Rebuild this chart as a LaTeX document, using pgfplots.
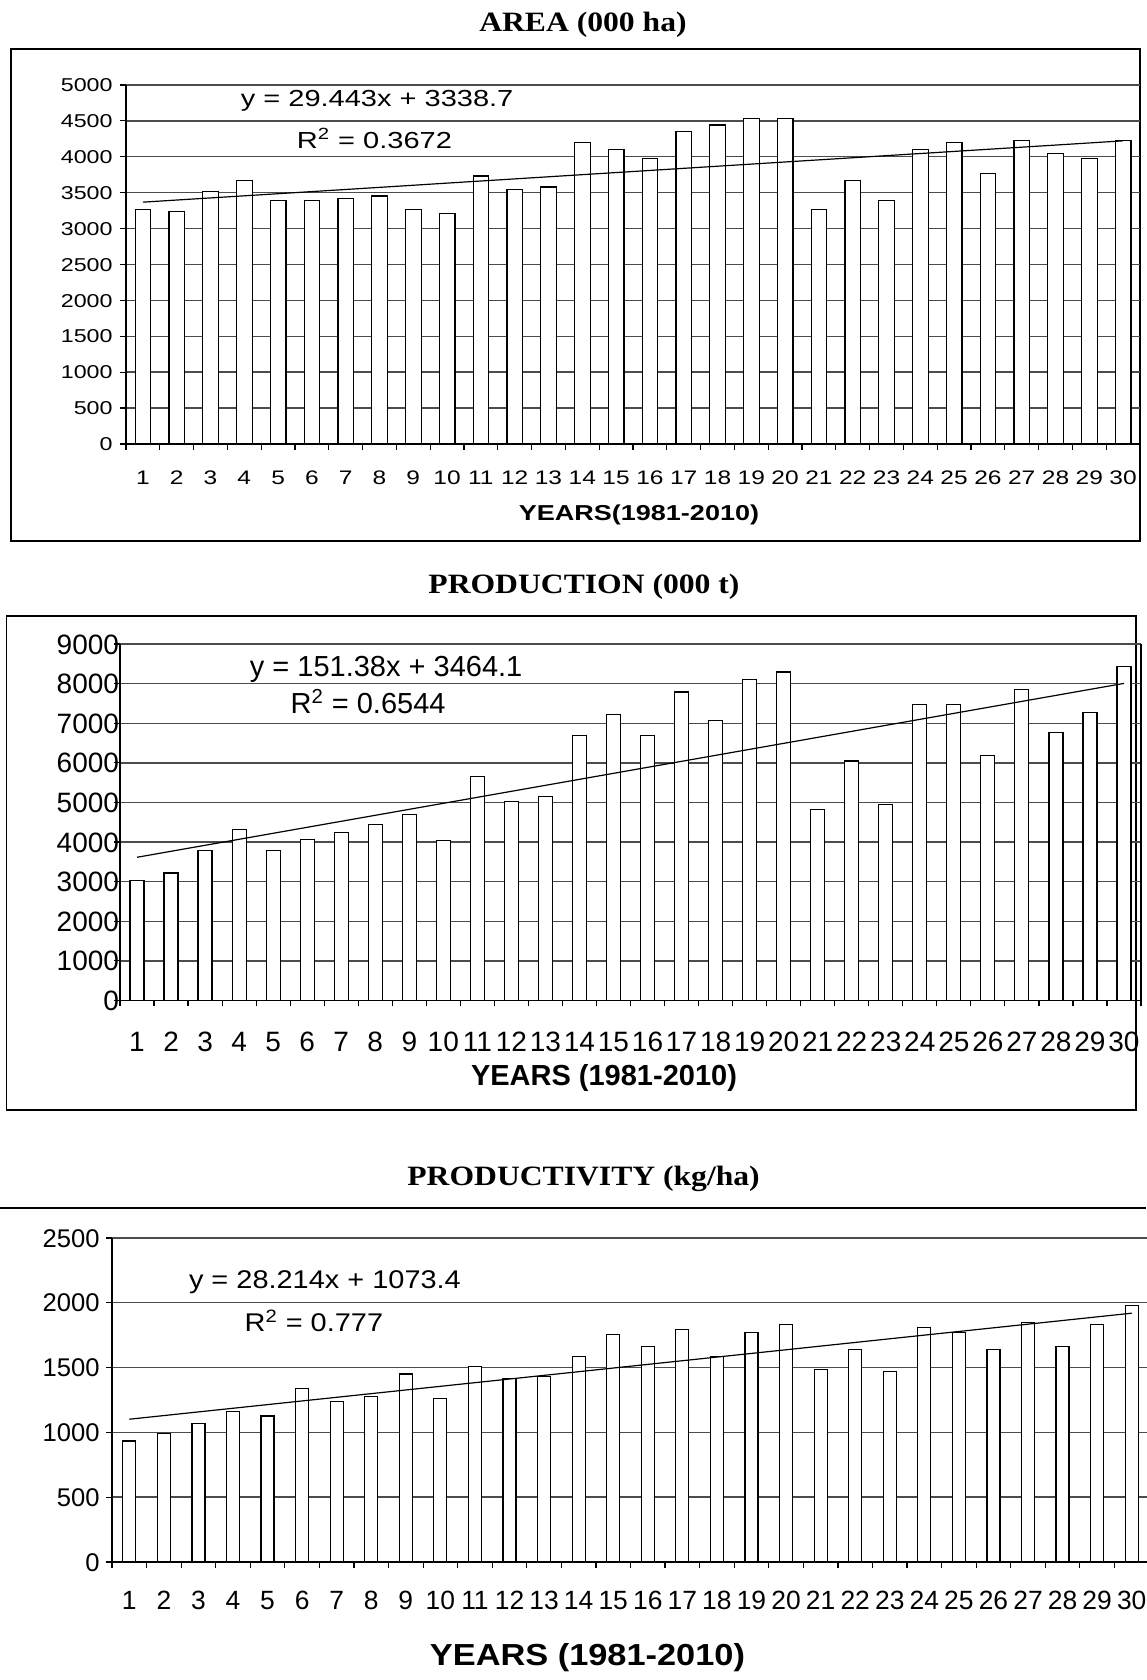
\documentclass[border=0pt]{standalone}
\usepackage{pgfplots}
\pgfplotsset{compat=1.18}
\usepackage{fontspec}
\setmainfont{Liberation Sans}
\newfontfamily\sfA[FakeStretch=1.25]{Liberation Sans}
\newfontfamily\sfB{Liberation Sans}
\newfontfamily\sfC[FakeStretch=1.13]{Liberation Sans}
\newfontfamily\serB[FakeStretch=1.13]{Liberation Serif}

\pgfplotsset{
  excel/.style={
    scale only axis, anchor=south west,
    xmin=0.5, xmax=30.5, ymin=0,
    axis x line*=bottom, axis y line*=left,
    axis line style={black, line width=0.7pt, -},
    xtick={1,...,30},
    minor xtick={0.5,1.5,...,30.5},
    tick align=outside,
    major tick length=0pt, minor tick length=3pt,
    minor tick style={black, line width=0.6pt},
    ymajorgrids, grid style={black!70, line width=0.7pt},
    /pgf/number format/assume math mode=true,
    /pgf/number format/1000 sep={},
    scaled y ticks=false,
    clip=false,
    xticklabel style={anchor=base, inner sep=0pt},
    yticklabel style={anchor=base east, inner sep=0pt},
  },
}

\begin{document}
\begin{tikzpicture}
\useasboundingbox (0pt,0pt) rectangle (573pt,840pt);

% ---------------- AREA ----------------
\node[font=\serB\bfseries\fontsize{14}{16}\selectfont] at (291.5pt,827.5pt) {AREA (000 ha)};
\draw[line width=0.8pt] (5.5pt,569.5pt) rectangle (570pt,815.5pt);
\begin{axis}[excel,
  at={(63pt,618pt)}, width=507pt, height=179.5pt,
  ymax=5000, ytick={0,500,...,5000}, minor ytick={0,500,...,5000},
  xticklabel style={font=\sfA\fontsize{9.8}{12}\selectfont, yshift=-20.5pt},
  yticklabel style={font=\sfA\fontsize{9.3}{11}\selectfont, xshift=-6.5pt, yshift=-3.33pt},
]
\addplot[ybar, bar width=7.8pt, fill=white, draw=black, line width=0.6pt] coordinates {
(1,3270) (2,3236) (3,3514) (4,3668) (5,3390) (6,3390) (7,3424) (8,3454) (9,3270) (10,3211)
(11,3733) (12,3544) (13,3579) (14,4195) (15,4100) (16,3976) (17,4349) (18,4443) (19,4533) (20,4533)
(21,3270) (22,3668) (23,3390) (24,4100) (25,4195) (26,3762) (27,4225) (28,4041) (29,3976) (30,4225)
};
\addplot[black, line width=0.6pt, mark=none] coordinates {(1,3368.1) (30,4222.0)};
\node[anchor=base, font=\sfA\fontsize{11.6}{13}\selectfont] at (axis cs:7.93,4698) {y = 29.443x + 3338.7};
\node[anchor=base, font=\sfA\fontsize{11.6}{13}\selectfont] at (axis cs:7.85,4118) {R\textsuperscript{2} = 0.3672};
\end{axis}
\node[font=\sfA\bfseries\fontsize{10.8}{12}\selectfont] at (319.5pt,582.5pt) {YEARS(1981-2010)};

% ---------------- PRODUCTION ----------------
\node[font=\serB\bfseries\fontsize{14}{16}\selectfont] at (292pt,546.5pt) {PRODUCTION (000 t)};
\draw[line width=0.8pt] (3.2pt,285pt) rectangle (568pt,532pt);
\begin{axis}[excel,
  at={(60pt,339.75pt)}, width=510.5pt, height=178.25pt,
  ymax=9000, ytick={0,1000,...,9000}, minor ytick={0,1000,...,9000},
  xticklabel style={font=\sfB\fontsize{14}{16}\selectfont, yshift=-25.6pt},
  yticklabel style={font=\sfB\fontsize{14}{16}\selectfont, xshift=-0.3pt, yshift=-5pt},
]
\addplot[ybar, bar width=7pt, fill=white, draw=black, line width=0.6pt] coordinates {
(1,3027) (2,3217) (3,3795) (4,4319) (5,3795) (6,4057) (7,4247) (8,4446) (9,4699) (10,4048)
(11,5665) (12,5024) (13,5150) (14,6696) (15,7211) (16,6696) (17,7789) (18,7075) (19,8105) (20,8295)
(21,4825) (22,6045) (23,4952) (24,7464) (25,7464) (26,6181) (27,7852) (28,6759) (29,7274) (30,8430)
};
\addplot[black, line width=0.6pt, mark=none] coordinates {(1,3615.5) (30,8005.5)};
\draw[black, line width=0.7pt] (rel axis cs:1,0) -- (rel axis cs:1,1);
\node[anchor=base, font=\sfB\fontsize{14.5}{16}\selectfont] at (axis cs:8.32,8192) {y = 151.38x + 3464.1};
\node[anchor=base, font=\sfB\fontsize{14.5}{16}\selectfont] at (axis cs:7.79,7238) {R\textsuperscript{2} = 0.6544};
\end{axis}
\node[font=\sfB\bfseries\fontsize{14.5}{16}\selectfont] at (302pt,301pt) {YEARS (1981-2010)};

% ---------------- PRODUCTIVITY ----------------
\node[font=\serB\bfseries\fontsize{14}{16}\selectfont] at (291.8pt,250.5pt) {PRODUCTIVITY (kg/ha)};
\draw[line width=0.8pt] (0pt,236pt) -- (573pt,236pt);
\begin{axis}[excel,
  at={(56pt,59pt)}, width=518.5pt, height=162pt,
  ymax=2500, ytick={0,500,...,2500}, minor ytick={0,500,...,2500},
  xticklabel style={font=\sfB\fontsize{13.2}{15}\selectfont, yshift=-23.7pt},
  yticklabel style={font=\sfB\fontsize{12.8}{14}\selectfont, xshift=-6pt, yshift=-4.58pt},
]
\addplot[ybar, bar width=6.5pt, fill=white, draw=black, line width=0.6pt] coordinates {
(1,933) (2,991) (3,1068) (4,1162) (5,1126) (6,1338) (7,1239) (8,1278) (9,1451) (10,1261)
(11,1506) (12,1415) (13,1432) (14,1583) (15,1757) (16,1660) (17,1792) (18,1583) (19,1773) (20,1831)
(21,1487) (22,1641) (23,1468) (24,1812) (25,1773) (26,1641) (27,1850) (28,1660) (29,1831) (30,1982)
};
\addplot[black, line width=0.6pt, mark=none] coordinates {(1,1101.6) (30,1919.8)};
\node[anchor=base, font=\sfC\fontsize{12.8}{14}\selectfont] at (axis cs:6.66,2114) {y = 28.214x + 1073.4};
\node[anchor=base, font=\sfC\fontsize{12.8}{14}\selectfont] at (axis cs:6.34,1777) {R\textsuperscript{2} = 0.777};
\end{axis}
\node[font=\sfC\bfseries\fontsize{15.2}{17}\selectfont] at (293.75pt,11pt) {YEARS (1981-2010)};
\end{tikzpicture}
\end{document}
